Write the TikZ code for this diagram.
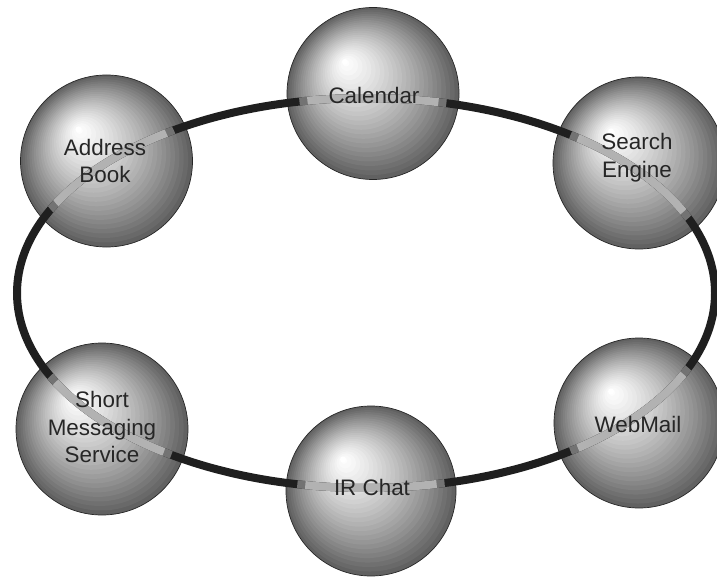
\documentclass[tikz,border=0pt]{standalone}
\usepackage{fontspec}
\setmainfont{Liberation Sans}
\tikzset{
  sphere/.style={circle, inner sep=0pt, draw=black!85, line width=0.7bp},
  ring/.style={line width=8bp, draw=black!88},
  ringmid/.style={line width=8bp, draw=black!55},
  ringin/.style={line width=8bp, draw=black!30},
  lbl/.style={align=center, text=black!85, font=\fontsize{22.5}{28}\selectfont}
}
\begin{document}
\begin{tikzpicture}[x=1bp,y=-1bp]
\useasboundingbox (0,0) rectangle (717,577);
% spheres: concentric offset bands
\foreach \n/\x/\y/\r in {cal/373/93.5/86, adr/106.5/161/86, sea/639/163/86, sms/102/429/86, irc/371/491/85, web/639/423/85}{
  \foreach \i in {0,...,25}{
    \pgfmathsetmacro\t{\i/26}
    \pgfmathsetmacro\p{62*(1-\t)^1.3}
    \fill[black!\p] ({\x-28*\t},{\y-31.5*\t}) circle [radius={\r*(1-\t)}];
  }
  \fill[white] ({\x-28},{\y-31.5}) circle [radius=3];
  \node[sphere, minimum size=2*\r bp] (\n) at (\x,\y) {};
}
% ring
\coordinate (rc) at (366,293);
\draw[ring] (rc) ellipse [x radius=349, y radius=195];
\foreach \s in {cal,adr,sea,sms,irc,web}{
  \begin{scope}
    \clip (\s.center) circle [radius=74];
    \draw[ringmid] (rc) ellipse [x radius=349, y radius=195];
  \end{scope}
  \begin{scope}
    \clip (\s.center) circle [radius=66];
    \draw[ringin] (rc) ellipse [x radius=349, y radius=195];
  \end{scope}
}
% labels
\node[lbl] (tcal) at (374,95) {Calendar};
\node[lbl] (tadr) at (105,161) {Address\\Book};
\node[lbl] (tsea) at (637,158) {Search\\Engine};
\node[lbl] (tsms) at (102,427) {Short\\Messaging\\Service};
\node[lbl] (tirc) at (372,487) {IR Chat};
\node[lbl] (tweb) at (638,424) {WebMail};
\end{tikzpicture}
\end{document}
